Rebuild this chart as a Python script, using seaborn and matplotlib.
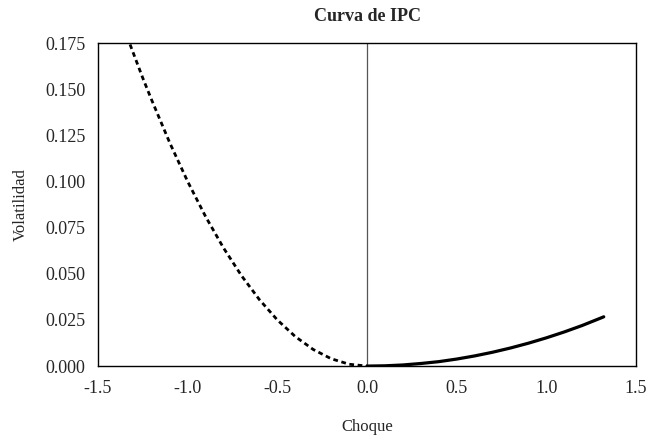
import numpy as np
import pandas as pd
import matplotlib
matplotlib.use('Agg')
import matplotlib.pyplot as plt
import seaborn as sns

# Points
neg_x = [-1.40, -1.33, -1.25, -1.20, -1.10, -1.00, -0.90, -0.80, -0.70, -0.60, -0.50, -0.40, -0.30, -0.20, -0.10, 0.00]
neg_y = [0.1955, 0.1765, 0.156, 0.144, 0.121, 0.100, 0.081, 0.064, 0.049, 0.036, 0.025, 0.016, 0.009, 0.004, 0.001, 0.000]
pos_x = [0.00, 0.10, 0.20, 0.30, 0.40, 0.50, 0.60, 0.70, 0.80, 0.90, 1.00, 1.10, 1.20, 1.30, 1.32]
pos_y = [0.000, 0.00015, 0.0006, 0.0014, 0.0024, 0.0038, 0.0055, 0.0075, 0.0098, 0.0124, 0.0153, 0.0185, 0.0220, 0.0259, 0.0267]

x_ticks = [-1.5, -1.0, -0.5, 0.0, 0.5, 1.0, 1.5]
y_ticks = [0.000, 0.025, 0.050, 0.075, 0.100, 0.125, 0.150, 0.175]

sns.set_style('white')
plt.rcParams['font.family'] = ['Liberation Serif', 'DejaVu Serif']

neg = pd.DataFrame({'x': neg_x, 'y': neg_y})
pos = pd.DataFrame({'x': pos_x, 'y': pos_y})

fig = plt.figure(figsize=(6.49, 4.40), dpi=100)
ax = fig.add_axes([0.151, 0.168, 0.829, 0.734])

ax.axvline(0, color='#555555', lw=0.9, zorder=1)
sns.lineplot(data=neg, x='x', y='y', ax=ax, color='black', lw=2.0,
             linestyle=(0, (1.7, 1.3)), sort=False)
sns.lineplot(data=pos, x='x', y='y', ax=ax, color='black', lw=2.3, sort=False)

ax.set_xlim(-1.5, 1.5)
ax.set_ylim(0, 0.175)
ax.set_xticks(x_ticks)
ax.set_xticklabels([f'{t:.1f}' for t in x_ticks])
ax.set_yticks(y_ticks)
ax.set_yticklabels([f'{t:.3f}' for t in y_ticks])
ax.tick_params(axis='both', direction='out', length=5, width=1, color='#777777',
               labelsize=13, pad=4)
ax.tick_params(axis='x', pad=5)
for s in ax.spines.values():
    s.set_color('black')
    s.set_linewidth(1.0)

ax.set_title('Curva de IPC', fontsize=13, fontweight='bold', pad=16)
ax.set_xlabel('Choque', fontsize=12, labelpad=16)
ax.set_ylabel('Volatilidad', fontsize=12, labelpad=12)

fig.savefig('out.png', dpi=100)
